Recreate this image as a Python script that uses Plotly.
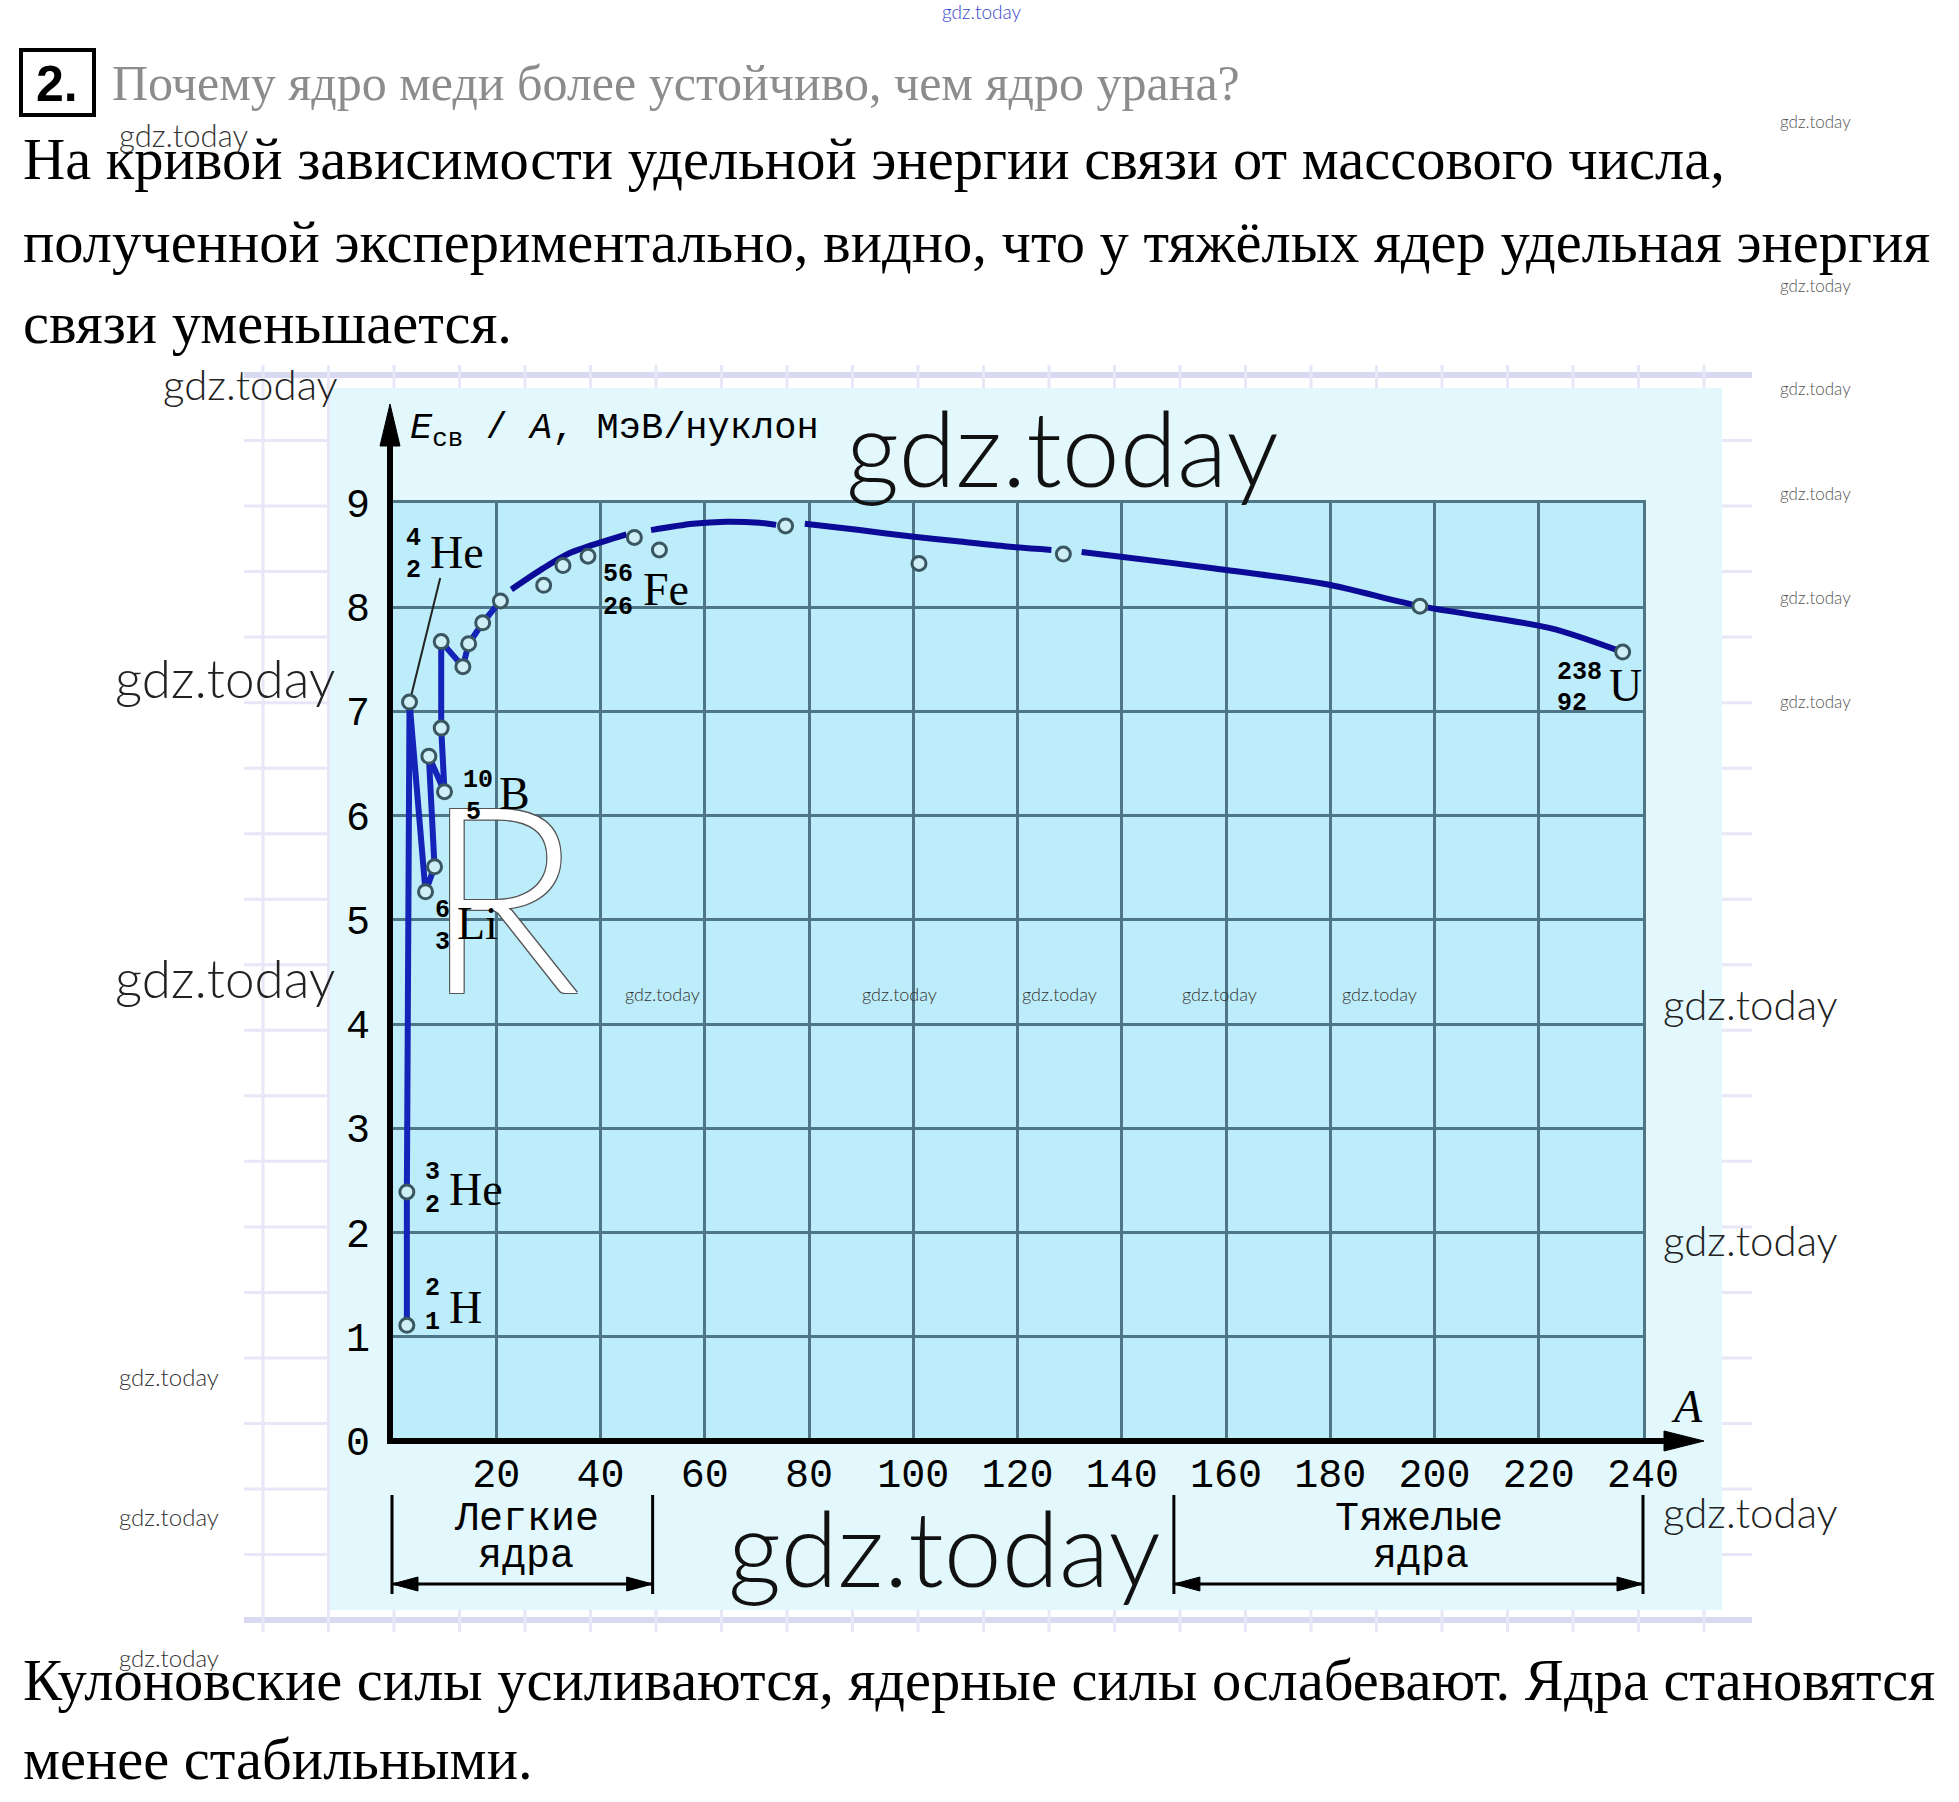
import plotly.graph_objects as go

# ---------------- values ----------------
# light nuclei (zig-zag polyline): 2H, 3He, 4He, 6Li, ..., 10B, ...
light_A = [2.85, 2.85, 3.36, 6.43, 8.16, 7.07, 10.07, 9.44, 9.44, 13.6, 14.7, 17.4, 20.8]
light_E = [1.11, 2.39, 7.09, 5.27, 5.51, 6.57, 6.23, 6.84, 7.67, 7.43, 7.65, 7.85, 8.06]

# heavier nuclei (open circles)
heavy_A = [29.1, 32.8, 37.6, 46.5, 51.3, 75.5, 101.1, 128.8, 197.2, 236.1]
heavy_E = [8.21, 8.40, 8.49, 8.67, 8.55, 8.78, 8.42, 8.51, 8.01, 7.57]

# smooth experimental curve (pieces separated by gaps around circles)
curve_A = [22.9, 28.9, 34.1, 40.5, 45.0, None,
           49.7, 57.7, 64.1, 70.5, 73.7, None,
           79.2, 89.7, 99.3, 109.0, 118.5, 126.5, None,
           132.3, 139.0, 158.2, 179.3, 197.2, 222.2, 236.1]
curve_E = [8.17, 8.37, 8.52, 8.63, 8.70, None,
           8.74, 8.80, 8.82, 8.81, 8.79, None,
           8.80, 8.74, 8.68, 8.63, 8.58, 8.55, None,
           8.53, 8.49, 8.37, 8.22, 8.01, 7.80, 7.57]

# thin leader line from the 4He label to its point
leader_A = [9.25, 3.68]
leader_E = [8.28, 7.15]

x_tick_vals = [20, 40, 60, 80, 100, 120, 140, 160, 180, 200, 220, 240]
y_tick_vals = [0, 1, 2, 3, 4, 5, 6, 7, 8, 9]
A_range = [0, 240]
E_range = [0, 9]

light_group = [0, 50]
heavy_group = [150, 240]

question = "Почему ядро меди более устойчиво, чем ядро урана?"
answer_lines = [
    "На кривой зависимости удельной энергии связи от массового числа,",
    "полученной экспериментально, видно, что у тяжёлых ядер удельная энергия",
    "связи уменьшается.",
]
footer_lines = [
    "Кулоновские силы усиливаются, ядерные силы ослабевают. Ядра становятся",
    "менее стабильными.",
]

# ---------------- layout geometry ----------------
W, H = 1959, 1802
L, R, T, B = 392, 316, 503, 361
PW = W - L - R
PH = H - T - B


def px(x):
    return (x - L) / PW


def py(y):
    return 1 - (y - T) / PH


SERIF = "Liberation Serif, Times New Roman, serif"
MONO = "Liberation Mono, DejaVu Sans Mono, monospace"
WM = "Lato, Open Sans, sans-serif"

LINE_BLUE = "#0b0b98"
ZIG_BLUE = "#1424b8"
GRID = "#4e7686"

fig = go.Figure()

fig.add_trace(go.Scatter(x=leader_A, y=leader_E, mode="lines",
                         line=dict(color="#222222", width=2), hoverinfo="skip"))
fig.add_trace(go.Scatter(x=light_A, y=light_E, mode="lines",
                         line=dict(color=ZIG_BLUE, width=6), hoverinfo="skip"))
fig.add_trace(go.Scatter(x=curve_A, y=curve_E, mode="lines", connectgaps=False,
                         line=dict(color=LINE_BLUE, width=6, shape="spline", smoothing=0.8),
                         hoverinfo="skip"))
fig.add_trace(go.Scatter(x=light_A + heavy_A, y=light_E + heavy_E, mode="markers",
                         marker=dict(symbol="circle", size=14, color="#cfeff7",
                                     line=dict(color="#3a5660", width=3)),
                         hoverinfo="skip"))

shapes = []
# graph paper behind
for k in range(20):
    yk = 375 + 65.53 * k
    edge = k in (0, 19)
    shapes.append(dict(type="line", xref="paper", yref="paper", layer="below",
                       x0=px(244), x1=px(1752), y0=py(yk), y1=py(yk),
                       line=dict(color="#d9d9f1" if edge else "#e7e7f8", width=6 if edge else 3)))
for j in range(23):
    xj = 263 + 65.5 * j
    shapes.append(dict(type="line", xref="paper", yref="paper", layer="below",
                       x0=px(xj), x1=px(xj), y0=py(365), y1=py(1632),
                       line=dict(color="#e7e7f8", width=3)))
# pale cyan chart box
shapes.append(dict(type="rect", xref="paper", yref="paper", layer="below",
                   x0=px(330), x1=px(1722), y0=py(388), y1=py(1610),
                   fillcolor="#e2f8fc", line=dict(width=0)))
# plot area
shapes.append(dict(type="rect", xref="paper", yref="paper", layer="below",
                   x0=0, x1=1, y0=0, y1=1, fillcolor="#bdecfa", line=dict(width=0)))

# axes with arrows
shapes.append(dict(type="line", xref="paper", yref="paper",
                   x0=px(390), x1=px(390), y0=py(1444), y1=py(440),
                   line=dict(color="black", width=6)))
shapes.append(dict(type="path", xref="paper", yref="paper",
                   path=f"M {px(390)} {py(404)} L {px(380)} {py(446)} L {px(400)} {py(446)} Z",
                   fillcolor="black", line=dict(color="black", width=1)))
shapes.append(dict(type="line", xref="paper", yref="paper",
                   x0=px(387), x1=px(1670), y0=py(1441), y1=py(1441),
                   line=dict(color="black", width=6)))
shapes.append(dict(type="path", xref="paper", yref="paper",
                   path=f"M {px(1704)} {py(1441)} L {px(1664)} {py(1431)} L {px(1664)} {py(1451)} Z",
                   fillcolor="black", line=dict(color="black", width=1)))

# group brackets
for g in (light_group, heavy_group):
    xa, xb = g[0] / A_range[1], g[1] / A_range[1]
    for xv in (xa, xb):
        shapes.append(dict(type="line", xref="paper", yref="paper",
                           x0=xv, x1=xv, y0=py(1495), y1=py(1594),
                           line=dict(color="black", width=3)))
    shapes.append(dict(type="line", xref="paper", yref="paper",
                       x0=xa, x1=xb, y0=py(1584), y1=py(1584),
                       line=dict(color="black", width=3)))
    dx = 26 / PW
    shapes.append(dict(type="path", xref="paper", yref="paper",
                       path=f"M {xa} {py(1584)} L {xa + dx} {py(1577)} L {xa + dx} {py(1591)} Z",
                       fillcolor="black", line=dict(color="black", width=1)))
    shapes.append(dict(type="path", xref="paper", yref="paper",
                       path=f"M {xb} {py(1584)} L {xb - dx} {py(1577)} L {xb - dx} {py(1591)} Z",
                       fillcolor="black", line=dict(color="black", width=1)))

# question number box
shapes.append(dict(type="rect", xref="paper", yref="paper",
                   x0=px(21), x1=px(94), y0=py(50), y1=py(115),
                   line=dict(color="black", width=4), fillcolor="white"))

annotations = []


def ann(text, x, y, size, family, color="black", xanchor="center", yanchor="middle", **kw):
    d = dict(text=text, x=px(x), y=py(y), xref="paper", yref="paper", showarrow=False,
             xanchor=xanchor, yanchor=yanchor,
             font=dict(size=size, family=family, color=color))
    d["font"].update(kw.pop("font_extra", {}))
    d.update(kw)
    annotations.append(d)


# watermark "R" (white, outlined) drawn first so labels sit over it
ann("R", 502, 892, 260, WM, color="white",
    font_extra=dict(shadow="1px 1px 0 #555, -1px -1px 0 #555, 1px -1px 0 #555, -1px 1px 0 #555",
                    weight=300))

# header text
ann("<b>2.</b>", 57, 84, 50, "Liberation Sans, Arial, sans-serif")
ann(question, 110, 83, 50, SERIF, color="#8c8c8c", xanchor="left")
for i, line in enumerate(answer_lines):
    ann(line, 21, 160 + 82 * i, 58.5, SERIF, xanchor="left")
for i, line in enumerate(footer_lines):
    ann(line, 21, 1680 + 79 * i, 58.5, SERIF, xanchor="left")

# axis titles
ann("<i>E</i><sub>св</sub> / <i>A</i>, МэВ/нуклон", 408, 430, 37, MONO, xanchor="left")
ann("<i>A</i>", 1687, 1406, 46, SERIF)

# group labels
ann("Легкие", 526, 1519, 40, MONO)
ann("ядра", 526, 1556, 40, MONO)
ann("Тяжелые", 1419, 1519, 40, MONO)
ann("ядра", 1421, 1556, 40, MONO)

# nuclide labels: (mass, charge, symbol, mass xy, charge xy, symbol xy)
nuclide_labels = [
    ("4", "2", "He", (413, 538), (413, 570), (457, 552)),
    ("56", "26", "Fe", (618, 574), (618, 607), (666, 589)),
    ("3", "2", "He", (432, 1172), (432, 1205), (476, 1189)),
    ("2", "1", "H", (432, 1288), (432, 1322), (465, 1307)),
    ("10", "5", "B", (478, 780), (473, 812), (514, 793)),
    ("6", "3", "Li", (442, 910), (442, 942), (477, 923)),
    ("238", "92", "U", (1579, 672), (1572, 703), (1625, 685)),
]
for m, z, s, mp, zp, sp in nuclide_labels:
    ann("<b>" + m + "</b>", mp[0], mp[1], 25, MONO)
    ann("<b>" + z + "</b>", zp[0], zp[1], 25, MONO)
    ann(s, sp[0], sp[1], 46, SERIF)

# watermarks
wm = [
    (981, 12, 19, "#3344cc"),
    (184, 135, 31, "#333333"),
    (1815, 121, 17, "#555555"),
    (1815, 285, 17, "#555555"),
    (250, 384, 42, "#222222"),
    (1815, 389, 17, "#555555"),
    (1062, 446, 104, "#111111"),
    (1815, 493, 17, "#555555"),
    (1815, 597, 17, "#555555"),
    (225, 677, 53, "#222222"),
    (1815, 701, 17, "#555555"),
    (225, 977, 53, "#222222"),
    (662, 994, 18, "#333333"),
    (899, 994, 18, "#333333"),
    (1059, 994, 18, "#333333"),
    (1219, 994, 18, "#333333"),
    (1379, 994, 18, "#333333"),
    (1750, 1004, 42, "#222222"),
    (1750, 1240, 42, "#222222"),
    (169, 1376, 24, "#333333"),
    (169, 1516, 24, "#333333"),
    (944, 1546, 104, "#111111"),
    (1750, 1512, 42, "#222222"),
    (169, 1657, 24, "#333333"),
]
for x, y, s, c in wm:
    ann("gdz.today", x, y, s, WM, color=c, font_extra=dict(weight=300))

fig.update_layout(
    width=W, height=H,
    margin=dict(l=L, r=R, t=T, b=B, pad=0),
    paper_bgcolor="white",
    plot_bgcolor="rgba(0,0,0,0)",
    showlegend=False,
    shapes=shapes,
    annotations=annotations,
    xaxis=dict(range=A_range, tickvals=x_tick_vals, ticktext=[str(v) for v in x_tick_vals],
               showgrid=True, gridcolor=GRID, gridwidth=3, zeroline=False,
               showline=True, mirror=True, linecolor=GRID, linewidth=3,
               ticks="", ticklabelstandoff=-5, automargin=False,
               tickfont=dict(family=MONO, size=40, color="black"), fixedrange=True),
    yaxis=dict(range=E_range, tickvals=y_tick_vals, ticktext=[str(v) for v in y_tick_vals],
               showgrid=True, gridcolor=GRID, gridwidth=3, zeroline=False,
               showline=True, mirror=True, linecolor=GRID, linewidth=3,
               ticks="", ticklabelstandoff=11, automargin=False,
               tickfont=dict(family=MONO, size=40, color="black"), fixedrange=True),
)

fig.write_html("out.html", config={"displayModeBar": False},
               post_script="document.body.style.margin='0';")
